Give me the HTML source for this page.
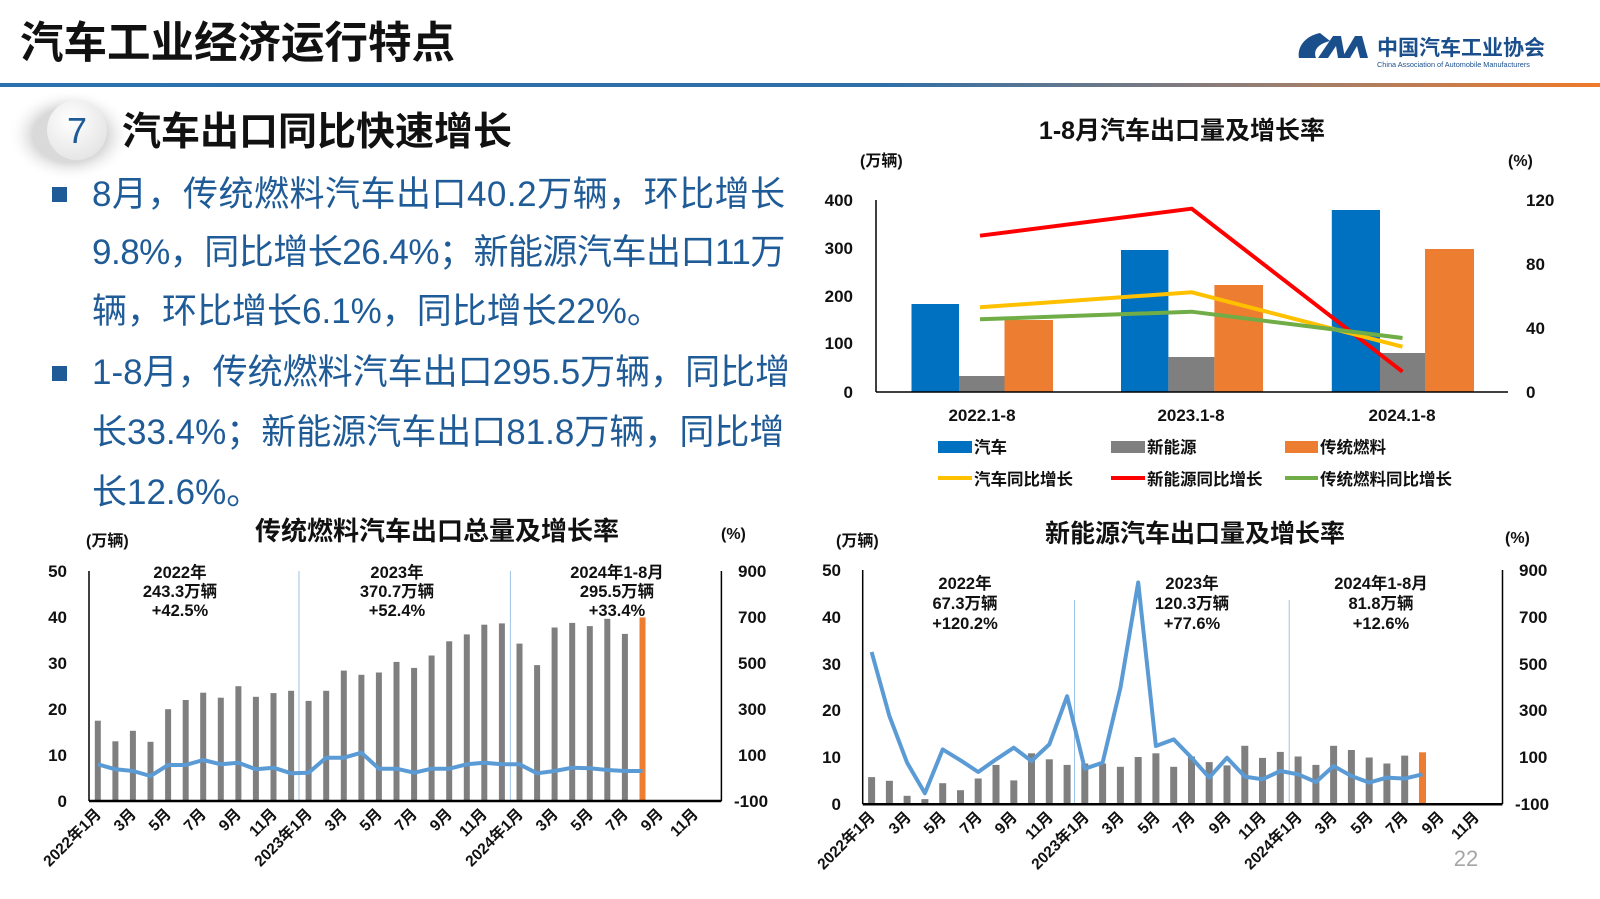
<!DOCTYPE html>
<html><head><meta charset="utf-8">
<style>
html,body{margin:0;padding:0;background:#fff;}
body{width:1600px;height:899px;position:relative;overflow:hidden;font-family:"Liberation Sans","Noto Sans CJK SC",sans-serif;}
.t{position:absolute;white-space:nowrap;}
.body{font-family:"Liberation Sans","Noto Sans CJK SC",sans-serif;font-size:35px;color:#1f5b97;line-height:40px;}
svg text{font-family:"Liberation Sans","Noto Sans CJK SC",sans-serif;}
</style></head><body>
<svg width="1600" height="899" viewBox="0 0 1600 899" style="position:absolute;left:0;top:0">
<defs>
<linearGradient id="hl" x1="0" x2="1" y1="0" y2="0">
<stop offset="0" stop-color="#2b72b0"/><stop offset="0.55" stop-color="#2e6fa8"/><stop offset="0.8" stop-color="#9a7e70"/><stop offset="1" stop-color="#f07a2a"/></linearGradient>
<radialGradient id="sh" cx="0.5" cy="0.5" r="0.5"><stop offset="0.6" stop-color="#d0d0d0"/><stop offset="1" stop-color="#ffffff" stop-opacity="0"/></radialGradient>
<radialGradient id="cg" cx="0.4" cy="0.35" r="0.7"><stop offset="0" stop-color="#ffffff"/><stop offset="1" stop-color="#e4e4e4"/></radialGradient>
</defs>
<!-- header -->
<text x="20" y="58" font-size="43.5" font-weight="bold" fill="#111">汽车工业经济运行特点</text>
<rect x="0" y="83" width="1600" height="4" fill="url(#hl)"/>
<!-- logo -->
<g fill="#1b4f8c">
<path d="M1320 33 C1305 36 1297 47 1299 58 L1316 58 C1313 50 1318 44 1330 41 Z"/>
<path d="M1318 58 L1333 36 L1341 36 L1345 58 L1338 58 L1336 46 L1328 58 Z"/>
<path d="M1342 58 L1355 36 L1362 36 L1368 58 L1360 58 L1357 46 L1350 58 Z"/>
</g>
<text x="1377" y="55" font-size="21" font-weight="bold" fill="#1b4f8c">中国汽车工业协会</text>
<text x="1377" y="67" font-size="7.3" fill="#1b4f8c">China Association of Automobile Manufacturers</text>
<!-- circle 7 -->
<ellipse cx="70" cy="135" rx="62" ry="46" fill="url(#sh)" opacity="0.8"/>
<circle cx="77" cy="130" r="30" fill="url(#cg)"/>
<text x="77" y="143" font-size="36" text-anchor="middle" fill="#1f5b97">7</text>
<text x="122" y="145" font-size="39" font-weight="bold" fill="#111">汽车出口同比快速增长</text>
<!-- bullets -->
<rect x="52" y="187" width="15" height="15" fill="#1f5b97"/>
<rect x="52" y="366" width="15" height="15" fill="#1f5b97"/>

<!-- ===== Top-right chart ===== -->
<g font-weight="bold" fill="#111">
<text x="1182" y="139" font-size="25" text-anchor="middle">1-8月汽车出口量及增长率</text>
<text x="860" y="166" font-size="16">(万辆)</text>
<text x="1508" y="166" font-size="16">(%)</text>
<g font-size="17" text-anchor="end">
<text x="853" y="206">400</text><text x="853" y="254">300</text><text x="853" y="302">200</text><text x="853" y="349">100</text><text x="853" y="398">0</text>
</g>
<g font-size="17">
<text x="1526" y="206">120</text><text x="1526" y="270">80</text><text x="1526" y="334">40</text><text x="1526" y="398">0</text>
</g>
<g font-size="17" text-anchor="middle">
<text x="982" y="421">2022.1-8</text><text x="1191" y="421">2023.1-8</text><text x="1402" y="421">2024.1-8</text>
</g>
</g>
<g>
<rect x="911.5" y="304" width="47.5" height="87.7" fill="#0070c0"/>
<rect x="959" y="376" width="45.5" height="15.7" fill="#7f7f7f"/>
<rect x="1004.5" y="320" width="48.5" height="71.7" fill="#ed7d31"/>
<rect x="1121" y="250" width="47.4" height="141.7" fill="#0070c0"/>
<rect x="1168.4" y="357" width="46" height="34.7" fill="#7f7f7f"/>
<rect x="1214.4" y="285" width="48.6" height="106.7" fill="#ed7d31"/>
<rect x="1331.8" y="210" width="48.2" height="181.7" fill="#0070c0"/>
<rect x="1380" y="353" width="45" height="38.7" fill="#7f7f7f"/>
<rect x="1425" y="249" width="49" height="142.7" fill="#ed7d31"/>
</g>
<line x1="876" y1="200" x2="876" y2="392" stroke="#000" stroke-width="1.5"/>
<line x1="876" y1="392" x2="1508" y2="392" stroke="#000" stroke-width="1.5"/>
<polyline points="980,235.7 1191.7,208.7 1402.5,371.7" fill="none" stroke="#ff0000" stroke-width="4"/>
<polyline points="980,307.3 1191.7,292.3 1402.5,346.7" fill="none" stroke="#ffc000" stroke-width="4"/>
<polyline points="980,319.3 1191.7,311.7 1402.5,338" fill="none" stroke="#70ad47" stroke-width="4"/>
<!-- legend -->
<rect x="938" y="441" width="34" height="12" fill="#0070c0"/>
<rect x="1111" y="441" width="34" height="12" fill="#7f7f7f"/>
<rect x="1285" y="441" width="33" height="12" fill="#ed7d31"/>
<line x1="938" y1="478" x2="972" y2="478" stroke="#ffc000" stroke-width="4"/>
<line x1="1111" y1="478" x2="1145" y2="478" stroke="#ff0000" stroke-width="4"/>
<line x1="1285" y1="478" x2="1318" y2="478" stroke="#70ad47" stroke-width="4"/>
<g font-size="16.5" font-weight="bold" fill="#111">
<text x="974" y="453">汽车</text><text x="1147" y="453">新能源</text><text x="1320" y="453">传统燃料</text>
<text x="974" y="485">汽车同比增长</text><text x="1147" y="485">新能源同比增长</text><text x="1320" y="485">传统燃料同比增长</text>
</g>

<!-- ===== Bottom-left chart ===== -->
<g font-weight="bold" fill="#111">
<text x="437" y="540" font-size="26" text-anchor="middle">传统燃料汽车出口总量及增长率</text>
<text x="86" y="546" font-size="16">(万辆)</text>
<text x="721" y="539" font-size="16">(%)</text>
<g font-size="17" text-anchor="end">
<text x="67" y="577">50</text><text x="67" y="623">40</text><text x="67" y="669">30</text><text x="67" y="715">20</text><text x="67" y="761">10</text><text x="67" y="807">0</text>
</g>
<g font-size="17">
<text x="738" y="577">900</text><text x="738" y="623">700</text><text x="738" y="669">500</text><text x="738" y="715">300</text><text x="738" y="761">100</text><text x="734" y="807">-100</text>
</g>
<g font-size="16.5" text-anchor="middle">
<text x="180" y="578">2022年</text><text x="180" y="597">243.3万辆</text><text x="180" y="616">+42.5%</text>
<text x="397" y="578">2023年</text><text x="397" y="597">370.7万辆</text><text x="397" y="616">+52.4%</text>
<text x="617" y="578">2024年1-8月</text><text x="617" y="597">295.5万辆</text><text x="617" y="616">+33.4%</text>
</g>
</g>
<line x1="299" y1="571" x2="299" y2="801" stroke="#9dc3e6" stroke-width="1"/>
<line x1="510.4" y1="571" x2="510.4" y2="801" stroke="#9dc3e6" stroke-width="1"/>
<g fill="#7f7f7f">
<rect x="94.8" y="720.7" width="6" height="80.3"/><rect x="112.4" y="741.3" width="6" height="59.7"/><rect x="129.9" y="730.8" width="6" height="70.2"/><rect x="147.5" y="741.8" width="6" height="59.2"/><rect x="165.1" y="709.2" width="6" height="91.8"/><rect x="182.7" y="700" width="6" height="101"/><rect x="200.2" y="692.7" width="6" height="108.3"/><rect x="217.8" y="697.7" width="6" height="103.3"/><rect x="235.4" y="686.2" width="6" height="114.8"/><rect x="252.9" y="696.8" width="6" height="104.2"/><rect x="270.5" y="693.1" width="6" height="107.9"/><rect x="288.1" y="690.8" width="6" height="110.2"/>
<rect x="305.6" y="700.9" width="6" height="100.1"/><rect x="323.2" y="690.8" width="6" height="110.2"/><rect x="340.8" y="670.6" width="6" height="130.4"/><rect x="358.4" y="674.8" width="6" height="126.2"/><rect x="375.9" y="672.5" width="6" height="128.5"/><rect x="393.5" y="661.9" width="6" height="139.1"/><rect x="411.1" y="667.9" width="6" height="133.1"/><rect x="428.6" y="655.5" width="6" height="145.5"/><rect x="446.2" y="641.3" width="6" height="159.7"/><rect x="463.8" y="634.4" width="6" height="166.6"/><rect x="481.3" y="624.7" width="6" height="176.3"/><rect x="498.9" y="623.4" width="6" height="177.6"/>
<rect x="516.5" y="643.6" width="6" height="157.4"/><rect x="534.1" y="665.1" width="6" height="135.9"/><rect x="551.6" y="627.5" width="6" height="173.5"/><rect x="569.2" y="622.9" width="6" height="178.1"/><rect x="586.8" y="626.1" width="6" height="174.9"/><rect x="604.3" y="618.8" width="6" height="182.2"/><rect x="621.9" y="633.9" width="6" height="167.1"/>
</g>
<rect x="639.5" y="617.4" width="6" height="183.6" fill="#ed7d31"/>
<line x1="89" y1="571" x2="89" y2="801" stroke="#000" stroke-width="1.5"/>
<line x1="721.4" y1="571" x2="721.4" y2="801" stroke="#000" stroke-width="1.5"/>
<line x1="89" y1="801" x2="721.4" y2="801" stroke="#000" stroke-width="2.5"/>
<polyline points="97.8,764.3 115.4,769.3 132.9,771 150.5,776 168.1,765 185.7,765 203.2,760 220.8,764.3 238.4,762.7 255.9,769.3 273.5,767.7 291.1,773.3 308.6,772.7 326.2,757.7 343.8,757.7 361.4,752.7 378.9,768.7 396.5,768.7 414.1,772.7 431.6,768.7 449.2,768.7 466.8,764.3 484.3,762.7 501.9,764.3 519.5,764.3 537.1,773.3 554.6,771 572.2,767.7 589.8,768.3 607.3,770 624.9,771 642.5,771" fill="none" stroke="#5b9bd5" stroke-width="4" stroke-linejoin="round"/>
<g font-size="15.5" font-weight="bold" fill="#111" text-anchor="end">
<text transform="translate(102,815) rotate(-45)">2022年1月</text>
<text transform="translate(137,815) rotate(-45)">3月</text>
<text transform="translate(172,815) rotate(-45)">5月</text>
<text transform="translate(207,815) rotate(-45)">7月</text>
<text transform="translate(242,815) rotate(-45)">9月</text>
<text transform="translate(278,815) rotate(-45)">11月</text>
<text transform="translate(313,815) rotate(-45)">2023年1月</text>
<text transform="translate(348,815) rotate(-45)">3月</text>
<text transform="translate(383,815) rotate(-45)">5月</text>
<text transform="translate(418,815) rotate(-45)">7月</text>
<text transform="translate(453,815) rotate(-45)">9月</text>
<text transform="translate(488,815) rotate(-45)">11月</text>
<text transform="translate(524,815) rotate(-45)">2024年1月</text>
<text transform="translate(559,815) rotate(-45)">3月</text>
<text transform="translate(594,815) rotate(-45)">5月</text>
<text transform="translate(629,815) rotate(-45)">7月</text>
<text transform="translate(664,815) rotate(-45)">9月</text>
<text transform="translate(699,815) rotate(-45)">11月</text>
</g>

<!-- ===== Bottom-right chart ===== -->
<g font-weight="bold" fill="#111">
<text x="1195" y="542" font-size="25" text-anchor="middle">新能源汽车出口量及增长率</text>
<text x="836" y="546" font-size="16">(万辆)</text>
<text x="1505" y="543" font-size="16">(%)</text>
<g font-size="17" text-anchor="end">
<text x="841" y="576">50</text><text x="841" y="623">40</text><text x="841" y="670">30</text><text x="841" y="716">20</text><text x="841" y="763">10</text><text x="841" y="810">0</text>
</g>
<g font-size="17">
<text x="1519" y="576">900</text><text x="1519" y="623">700</text><text x="1519" y="670">500</text><text x="1519" y="716">300</text><text x="1519" y="763">100</text><text x="1515" y="810">-100</text>
</g>
<g font-size="16.5" text-anchor="middle">
<text x="965" y="589">2022年</text><text x="965" y="609">67.3万辆</text><text x="965" y="629">+120.2%</text>
<text x="1192" y="589">2023年</text><text x="1192" y="609">120.3万辆</text><text x="1192" y="629">+77.6%</text>
<text x="1381" y="589">2024年1-8月</text><text x="1381" y="609">81.8万辆</text><text x="1381" y="629">+12.6%</text>
</g>
</g>
<line x1="1074.5" y1="600" x2="1074.5" y2="804" stroke="#9dc3e6" stroke-width="1"/>
<line x1="1289.2" y1="600" x2="1289.2" y2="804" stroke="#9dc3e6" stroke-width="1"/>
<g fill="#7f7f7f">
<rect x="868.1" y="777.1" width="7" height="27.1"/><rect x="885.9" y="780.8" width="7" height="23.4"/><rect x="903.6" y="795.8" width="7" height="8.4"/><rect x="921.4" y="799.1" width="7" height="5.1"/><rect x="939.2" y="783.2" width="7" height="21"/><rect x="957" y="790.2" width="7" height="14"/><rect x="974.7" y="778.5" width="7" height="25.7"/><rect x="992.5" y="764.9" width="7" height="39.3"/><rect x="1010.3" y="780.4" width="7" height="23.8"/><rect x="1028" y="753.3" width="7" height="50.9"/><rect x="1045.8" y="759.3" width="7" height="44.9"/><rect x="1063.6" y="764.9" width="7" height="39.3"/>
<rect x="1081.3" y="763.5" width="7" height="40.7"/><rect x="1099.1" y="763.5" width="7" height="40.7"/><rect x="1116.9" y="766.8" width="7" height="37.4"/><rect x="1134.7" y="757" width="7" height="47.2"/><rect x="1152.4" y="753.3" width="7" height="50.9"/><rect x="1170.2" y="766.8" width="7" height="37.4"/><rect x="1188" y="756.5" width="7" height="47.7"/><rect x="1205.7" y="762.1" width="7" height="42.1"/><rect x="1223.5" y="765.4" width="7" height="38.8"/><rect x="1241.3" y="745.8" width="7" height="58.4"/><rect x="1259" y="757.9" width="7" height="46.3"/><rect x="1276.8" y="751.9" width="7" height="52.3"/>
<rect x="1294.6" y="756.5" width="7" height="47.7"/><rect x="1312.4" y="764.9" width="7" height="39.3"/><rect x="1330.1" y="745.8" width="7" height="58.4"/><rect x="1347.9" y="750" width="7" height="54.2"/><rect x="1365.7" y="757.5" width="7" height="46.7"/><rect x="1383.4" y="763.5" width="7" height="40.7"/><rect x="1401.2" y="755.6" width="7" height="48.6"/>
</g>
<rect x="1419" y="752.3" width="7" height="51.9" fill="#ed7d31"/>
<line x1="862.7" y1="570" x2="862.7" y2="804" stroke="#000" stroke-width="1.5"/>
<line x1="1502.5" y1="570" x2="1502.5" y2="804" stroke="#000" stroke-width="1.5"/>
<line x1="862.7" y1="804.2" x2="1502.5" y2="804.2" stroke="#000" stroke-width="2.5"/>
<polyline points="871.6,652 889.4,716 907.1,762.7 924.9,793.3 942.7,749.4 960.5,760.3 978.2,772 996,759.4 1013.8,747.7 1031.5,761 1049.3,744.4 1067.1,696.2 1084.8,768.7 1102.6,762.7 1120.4,687.9 1138.2,582.5 1155.9,746 1173.7,739.4 1191.5,757.7 1209.2,777.6 1227,757.7 1244.8,776.6 1262.5,779.3 1280.3,771 1298.1,774.3 1315.9,782 1333.6,766 1351.4,776 1369.2,782.6 1386.9,777.6 1404.7,778.6 1422.5,774.3" fill="none" stroke="#5b9bd5" stroke-width="4" stroke-linejoin="round"/>
<g font-size="15.5" font-weight="bold" fill="#111" text-anchor="end">
<text transform="translate(876,818) rotate(-45)">2022年1月</text>
<text transform="translate(912,818) rotate(-45)">3月</text>
<text transform="translate(947,818) rotate(-45)">5月</text>
<text transform="translate(983,818) rotate(-45)">7月</text>
<text transform="translate(1018,818) rotate(-45)">9月</text>
<text transform="translate(1054,818) rotate(-45)">11月</text>
<text transform="translate(1090,818) rotate(-45)">2023年1月</text>
<text transform="translate(1125,818) rotate(-45)">3月</text>
<text transform="translate(1161,818) rotate(-45)">5月</text>
<text transform="translate(1196,818) rotate(-45)">7月</text>
<text transform="translate(1232,818) rotate(-45)">9月</text>
<text transform="translate(1267,818) rotate(-45)">11月</text>
<text transform="translate(1303,818) rotate(-45)">2024年1月</text>
<text transform="translate(1338,818) rotate(-45)">3月</text>
<text transform="translate(1374,818) rotate(-45)">5月</text>
<text transform="translate(1409,818) rotate(-45)">7月</text>
<text transform="translate(1445,818) rotate(-45)">9月</text>
<text transform="translate(1480,818) rotate(-45)">11月</text>
</g>
<text x="1466" y="866" font-size="22" fill="#a6a6a6" text-anchor="middle">22</text>
</svg>

<div class="t body" style="left:92px;top:175px;letter-spacing:0.5px">8月，传统燃料汽车出口40.2万辆，环比增长</div>
<div class="t body" style="left:92px;top:233px;letter-spacing:-0.5px">9.8%，同比增长26.4%；新能源汽车出口11万</div>
<div class="t body" style="left:92px;top:292px">辆，环比增长6.1%，同比增长22%。</div>
<div class="t body" style="left:92px;top:353px">1-8月，传统燃料汽车出口295.5万辆，同比增</div>
<div class="t body" style="left:92px;top:413px">长33.4%；新能源汽车出口81.8万辆，同比增</div>
<div class="t body" style="left:92px;top:473px">长12.6%。</div>
</body></html>
